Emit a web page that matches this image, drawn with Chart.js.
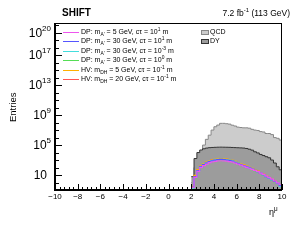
<!DOCTYPE html>
<html>
<head>
<meta charset="utf-8">
<script src="https://cdn.jsdelivr.net/npm/chart.js@4.4.1/dist/chart.umd.min.js"></script>
<style>
body { margin: 0; background: #fff; font-family: "Liberation Sans", Arial, sans-serif; }
#wrap { position: relative; width: 293px; height: 240px; }
.t { position: absolute; white-space: nowrap; color: #000; line-height: 1; }
.t sub, .t sup { font-size: 70%; line-height: 0; }
.leg { position: absolute; font-size: 7px; white-space: nowrap; line-height: 1; }
.leg i { position: absolute; left: 0; top: 4px; width: 16px; height: 1px; }
.leg span { position: absolute; left: 18px; top: 0; }
.leg sub, .leg sup { font-size: 70%; line-height: 0; }
.box { position: absolute; width: 6px; height: 3px; border: 1px solid #666; }
</style>
</head>
<body>
<div id="wrap">
<canvas id="chart" width="293" height="240"></canvas>
<div class="t" style="left:62px;top:8px;font-weight:bold;font-size:10px">SHIFT</div>
<div class="t" style="right:3px;top:9px;font-size:8.5px">7.2 fb<sup>-1</sup> (113 GeV)</div>
<div class="t" style="left:269px;top:208px;font-size:9px">η<sup>μ</sup></div>
<div class="t" style="left:8px;top:122px;font-size:9.5px;transform:rotate(-90deg);transform-origin:0 0">Entries</div>
<div id="legend"></div>
</div>

<script>
// bin edges in eta (last edge closes the last bin)
var etaEdges = [2, 2.25, 2.5, 2.75, 3, 3.25, 3.5, 3.75, 4, 4.25, 4.5, 4.75, 5, 5.25, 5.5, 5.75,
    6, 6.25, 6.5, 6.75, 7, 7.25, 7.5, 7.75, 8, 8.25, 8.5, 8.75, 9, 9.25, 9.5, 9.75, 10];

// backgrounds
var qcdData = [1, 100, 1000, 1e4, 1e5, 5.8e5, 2.1e6, 1.0e7, 2.8e7, 4.7e7, 8.0e7, 8.0e7, 7.1e7, 6.3e7, 4.5e7, 3.5e7,
    2.5e7, 2.2e7, 2.0e7, 2.0e7, 1.8e7, 1.26e7, 1.0e7, 8.9e6, 6.3e6, 5.6e6, 3.5e6, 3.5e6, 2.5e6, 1.0e6, 8.0e5, 4.7e5];
var dyData = [6, 1600, 1.0e4, 2.2e4, 3.2e4, 4.0e4, 4.5e4, 4.8e4, 5.0e4, 5.2e4, 5.3e4, 5.2e4, 5.1e4, 5.0e4, 4.8e4, 4.6e4,
    4.4e4, 4.2e4, 4.0e4, 3.5e4, 2.8e4, 2.1e4, 1.26e4, 8.9e3, 5.6e3, 4.0e3, 2.8e3, 2.0e3, 1.0e3, 400, 126, 50];

// signals
var dp5ct1 = [0.2, 5, 30, 95, 180, 290, 450, 560, 680, 760, 800, 770, 700, 620, 520, 380,
    280, 205, 150, 108, 80, 58, 40, 28, 18, 12, 7, 4.5, 2.8, 1.6, 0.9, 0.5];
var dp30ct1 = [0.25, 6.3, 40, 126, 250, 400, 630, 790, 1000, 1120, 1200, 1120, 1000, 890, 710, 500,
    355, 250, 178, 126, 89, 63, 42, 28, 18, 11, 6.3, 4, 2.5, 1.4, 0.8, 0.4];
var dp30ctm3 = [0.15, 5, 38, 130, 270, 430, 680, 850, 1080, 1200, 1250, 1200, 1080, 950, 760, 540,
    380, 260, 185, 130, 90, 64, 43, 29, 18, 11, 6, 3.8, 2.3, 1.3, 0.7, 0.3];
var dp30ct0 = [0.12, 4.5, 32, 100, 200, 320, 500, 620, 760, 850, 900, 860, 780, 690, 560, 400,
    290, 210, 150, 105, 76, 55, 37, 25, 16, 10, 6, 3.6, 2.2, 1.3, 0.8, 0.45];
var hv5 = [0.3, 9, 55, 170, 330, 520, 800, 1000, 1250, 1400, 1500, 1450, 1300, 1150, 900, 650,
    450, 320, 220, 150, 105, 75, 50, 33, 20, 12, 7, 4.5, 2.6, 1.5, 0.8, 0.4];
var hv20 = [0.2, 8, 50, 150, 300, 480, 750, 950, 1150, 1300, 1350, 1300, 1200, 1050, 850, 600,
    420, 300, 210, 140, 100, 70, 46, 30, 19, 12, 6.5, 4, 2.4, 1.3, 0.7, 0.35];

var signalNames = [
    "DP: m<sub>A'</sub> = 5 GeV, cτ = 10<sup>1</sup> m",
    "DP: m<sub>A'</sub> = 30 GeV, cτ = 10<sup>1</sup> m",
    "DP: m<sub>A'</sub> = 30 GeV, cτ = 10<sup>-3</sup> m",
    "DP: m<sub>A'</sub> = 30 GeV, cτ = 10<sup>0</sup> m",
    "HV: m<sub>DH</sub> = 5 GeV, cτ = 10<sup>-1</sup> m",
    "HV: m<sub>DH</sub> = 20 GeV, cτ = 10<sup>-1</sup> m"
];
var signalData = [dp5ct1, dp30ct1, dp30ctm3, dp30ct0, hv5, hv20];
var signalColors = ["#ee55ee", "#5555ff", "#44dddd", "#55dd55", "#ffb000", "#ff5555"];

var bkgNames = ["QCD", "DY"];
var bkgFill = ["#cccccc", "#9c9c9c"];
var bkgLine = ["#888888", "#333333"];

var xTicks = [-10, -8, -6, -4, -2, 0, 2, 4, 6, 8, 10];
var yTickExp = [20, 17, 13, 9, 5, 1];

function histPoints(vals) {
    var pts = [];
    for (var i = 0; i < vals.length; i++) pts.push({ x: etaEdges[i], y: vals[i] });
    pts.push({ x: etaEdges[vals.length], y: vals[vals.length - 1] });
    return pts;
}

var datasets = [];
for (var i = 0; i < signalData.length; i++) {
    datasets.push({
        data: histPoints(signalData[i]),
        borderColor: signalColors[i],
        borderWidth: 1.2,
        fill: false,
        stepped: true,
        pointRadius: 0,
        order: i
    });
}
datasets.push({ data: histPoints(dyData), borderColor: bkgLine[1], backgroundColor: bkgFill[1],
    borderWidth: 1, fill: "start", stepped: true, pointRadius: 0, order: 10 });
datasets.push({ data: histPoints(qcdData), borderColor: bkgLine[0], backgroundColor: bkgFill[0],
    borderWidth: 1, fill: "start", stepped: true, pointRadius: 0, order: 11 });

// frame, inward ticks and tick labels like ROOT
var framePlugin = {
    id: "frame",
    afterDraw: function (chart) {
        var ctx = chart.ctx, a = chart.chartArea;
        var xs = chart.scales.x, ys = chart.scales.y;
        ctx.save();
        ctx.strokeStyle = "#000";
        ctx.lineWidth = 1;
        ctx.beginPath();
        // minor x ticks
        for (var v = -10; v <= 10.001; v += 0.4) {
            var px = Math.round(xs.getPixelForValue(v)) + 0.5;
            ctx.moveTo(px, a.bottom); ctx.lineTo(px, a.bottom - 3);
        }
        xTicks.forEach(function (t) {
            var px = Math.round(xs.getPixelForValue(t)) + 0.5;
            ctx.moveTo(px, a.bottom); ctx.lineTo(px, a.bottom - 6);
        });
        for (var e = -1; e <= 21; e++) {
            var py = Math.round(ys.getPixelForValue(Math.pow(10, e))) + 0.5;
            var len = yTickExp.indexOf(e) >= 0 ? 7 : 4;
            ctx.moveTo(a.left, py); ctx.lineTo(a.left + len, py);
        }
        ctx.stroke();
        // frame
        ctx.strokeRect(a.left + 0.5, a.top + 0.5, a.right - a.left - 1, a.bottom - a.top - 1);
        ctx.lineWidth = 2;
        ctx.beginPath();
        ctx.moveTo(a.left, a.top); ctx.lineTo(a.left, a.bottom); ctx.lineTo(a.right, a.bottom);
        ctx.stroke();

        // tick labels
        ctx.fillStyle = "#000";
        ctx.font = "8px 'Liberation Sans', Arial, sans-serif";
        ctx.textAlign = "center";
        ctx.textBaseline = "top";
        xTicks.forEach(function (t) {
            var lab = t < 0 ? "\u2212" + Math.abs(t) : String(t);
            ctx.fillText(lab, xs.getPixelForValue(t), a.bottom + 3);
        });
        ctx.textAlign = "right";
        ctx.textBaseline = "alphabetic";
        yTickExp.forEach(function (e) {
            var py = ys.getPixelForValue(Math.pow(10, e));
            if (e === 1) {
                ctx.font = "12px 'Liberation Sans', Arial, sans-serif";
                ctx.fillText("10", 47, py + 4);
                return;
            }
            ctx.font = "8px 'Liberation Sans', Arial, sans-serif";
            var es = String(e);
            var w = ctx.measureText(es).width;
            ctx.fillText(es, 51, py - 2);
            ctx.font = "12px 'Liberation Sans', Arial, sans-serif";
            ctx.fillText("10", 51 - w, py + 4);
        });
        ctx.restore();
    }
};

new Chart("chart", {
    type: "line",
    data: { datasets: datasets },
    options: {
        responsive: false,
        animation: false,
        layout: { padding: { left: 55, right: 11, top: 23, bottom: 50 } },
        plugins: { legend: { display: false }, tooltip: { enabled: false } },
        scales: {
            x: { type: "linear", min: -10, max: 10, display: false },
            y: { type: "logarithmic", min: 0.1, max: 2e21, display: false }
        }
    },
    plugins: [framePlugin]
});

// legend (html so sub/superscripts stay real text)
var legendBox = document.getElementById("legend");
var html = "";
for (var i = 0; i < signalNames.length; i++) {
    var rowTop = Math.round(28 + i * 9.4);
    html += '<div class="leg" style="left:63px;top:' + rowTop + 'px"><i style="background:' + signalColors[i] +
        '"></i><span>' + signalNames[i] + '</span></div>';
}
for (var j = 0; j < bkgNames.length; j++) {
    var rowTop2 = Math.round(28 + j * 9);
    html += '<div class="box" style="left:201px;top:' + (rowTop2 + 2) + 'px;background:' + bkgFill[j] +
        ';border-color:' + bkgLine[j] + '"></div>';
    html += '<div class="leg" style="left:192px;top:' + rowTop2 + 'px"><span>' + bkgNames[j] + '</span></div>';
}
legendBox.innerHTML = html;
</script>
</body>
</html>
